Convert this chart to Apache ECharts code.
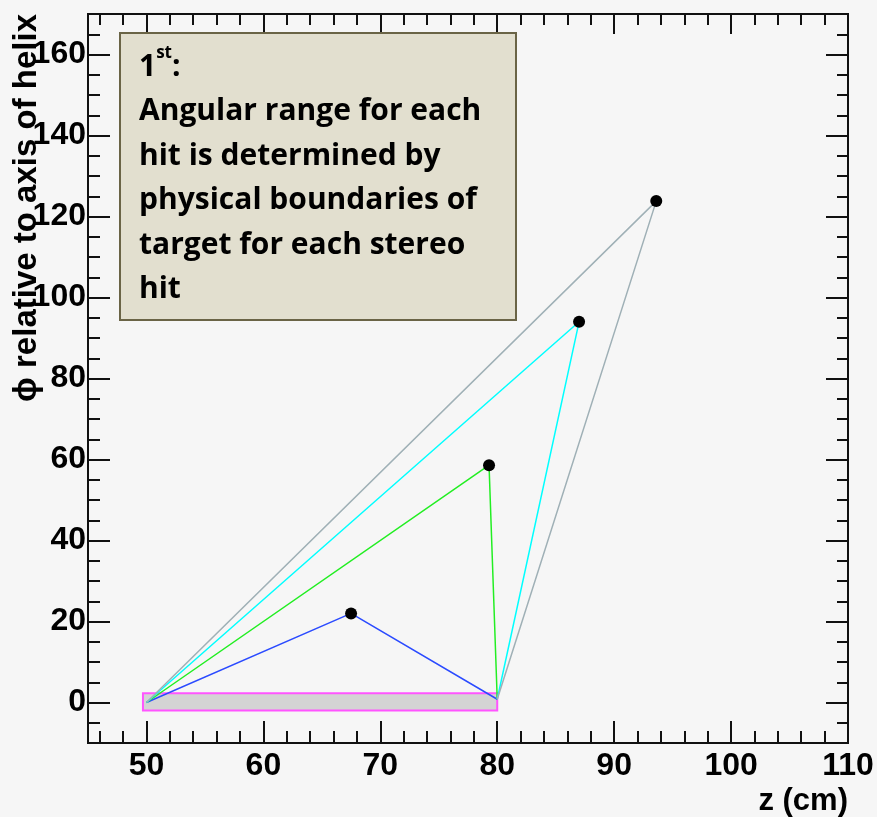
<!DOCTYPE html>
<html>
<head>
<meta charset="utf-8">
<script src="https://cdn.jsdelivr.net/npm/echarts@6/dist/echarts.min.js"></script>
<style>
  html, body { margin: 0; padding: 0; background: #f6f6f6; }
  #chart { width: 877px; height: 817px; }
</style>
</head>
<body>
<div id="chart"></div>
<script>
// ---- data ----
const hitZ = [67.5, 79.3, 87.0, 93.6];
const hitPhi = [22.0, 58.6, 94.0, 123.8];
const hitColors = ['#2b4bff', '#22ee22', '#00ffff', '#9fb0b6'];
const lineStart = [50, 0];
const lineEnd = [80, 0.8];
const targetZ = [49.7, 80];
const targetPhi = [-2, 2.3];

const majorX = [50, 60, 70, 80, 90, 100, 110];
const minorX = [46, 48, 52, 54, 56, 58, 62, 64, 66, 68, 72, 74, 76, 78, 82, 84, 86, 88, 92, 94, 96, 98, 102, 104, 106, 108];
const majorY = [0, 20, 40, 60, 80, 100, 120, 140, 160];
const minorY = [-5, 5, 10, 15, 25, 30, 35, 45, 50, 55, 65, 70, 75, 85, 90, 95, 105, 110, 115, 125, 130, 135, 145, 150, 155, 165];

const xRange = [45, 110];
const yRange = [-10, 170];

// ---- options ----
const axisColor = '#111';
const labelFont = { fontFamily: 'Liberation Sans, Arial, sans-serif', fontWeight: 'bold', fontSize: 32, color: '#000' };

function xAx(position, ticks, len, labels) {
  return {
    type: 'value', position: position, min: xRange[0], max: xRange[1],
    axisLine: { show: true, onZero: false, lineStyle: { color: axisColor, width: 2 } },
    axisTick: { show: true, inside: true, length: len, customValues: ticks, lineStyle: { color: axisColor, width: 2 } },
    axisLabel: labels ? Object.assign({ show: true, margin: 7, customValues: ticks }, labelFont) : { show: false },
    splitLine: { show: false }
  };
}
function yAx(position, ticks, len, labels) {
  return {
    type: 'value', position: position, min: yRange[0], max: yRange[1],
    axisLine: { show: true, onZero: false, lineStyle: { color: axisColor, width: 2 } },
    axisTick: { show: true, inside: true, length: len, customValues: ticks, lineStyle: { color: axisColor, width: 2 } },
    axisLabel: labels ? Object.assign({ show: true, margin: 2, padding: [8, 0, 0, 0], customValues: ticks }, labelFont) : { show: false },
    splitLine: { show: false }
  };
}

const series = [];
series.push({
  type: 'custom',
  name: 'target',
  data: [[targetZ[0], targetPhi[0], targetZ[1], targetPhi[1]]],
  renderItem: function (params, api) {
    const p1 = api.coord([api.value(0), api.value(3)]);
    const p2 = api.coord([api.value(2), api.value(1)]);
    return {
      type: 'rect',
      shape: { x: p1[0], y: p1[1], width: p2[0] - p1[0], height: p2[1] - p1[1] },
      style: { fill: '#d4d4d4', stroke: '#ff55ff', lineWidth: 2 }
    };
  },
  z: 1
});
for (let i = 0; i < hitZ.length; i++) {
  series.push({
    type: 'line',
    data: [lineStart, [hitZ[i], hitPhi[i]], lineEnd],
    symbol: 'none',
    lineStyle: { color: hitColors[i], width: 1.5 },
    z: 2
  });
}
series.push({
  type: 'scatter',
  data: hitZ.map((z, i) => [z, hitPhi[i]]),
  symbol: 'circle',
  symbolSize: 12,
  itemStyle: { color: '#000', opacity: 1 },
  z: 3
});

const option = {
  backgroundColor: '#f6f6f6',
  animation: false,
  grid: { left: 88, right: 29, top: 14, bottom: 74, containLabel: false },
  xAxis: [
    xAx('bottom', majorX, 22, true),
    xAx('bottom', minorX, 12, false),
    xAx('top', majorX, 20, false),
    xAx('top', minorX, 11, false)
  ],
  yAxis: [
    yAx('left', majorY, 22, true),
    yAx('left', minorY, 12, false),
    yAx('right', majorY, 22, false),
    yAx('right', minorY, 11, false)
  ],
  series: series,
  graphic: [
    {
      type: 'text', x: 27, y: 14, rotation: Math.PI / 2,
      style: {
        text: 'ϕ relative to axis of helix',
        fontFamily: 'Liberation Sans, Arial, sans-serif', fontWeight: 'bold', fontSize: 33,
        fill: '#000', textAlign: 'right', textVerticalAlign: 'middle'
      },
      z: 10
    },
    {
      type: 'text', x: 848, y: 801,
      style: {
        text: 'z (cm)',
        fontFamily: 'Liberation Sans, Arial, sans-serif', fontWeight: 'bold', fontSize: 31,
        fill: '#000', textAlign: 'right', textVerticalAlign: 'middle'
      },
      z: 10
    },
    {
      type: 'rect',
      shape: { x: 120, y: 33, width: 396, height: 287 },
      style: { fill: '#e2dfcf', stroke: '#6a6446', lineWidth: 2 },
      z: 20
    },
    {
      type: 'text', x: 139, y: 45,
      style: {
        text: '{a|1}{s|st}{a|:}\nAngular range for each\nhit is determined by\nphysical boundaries of\ntarget for each stereo\nhit',
        fontFamily: 'Open Sans, sans-serif', fontWeight: 'bold', fontSize: 30, lineHeight: 44.5,
        fill: '#000', textAlign: 'left', textVerticalAlign: 'top',
        rich: {
          a: { fontFamily: 'Open Sans, sans-serif', fontWeight: 'bold', fontSize: 30, lineHeight: 44.5, fill: '#000' },
          s: { fontFamily: 'Open Sans, sans-serif', fontWeight: 'bold', fontSize: 17, lineHeight: 24, verticalAlign: 'top', fill: '#000' }
        }
      },
      z: 21
    }
  ]
};

const chart = echarts.init(document.getElementById('chart'));
chart.setOption(option);
</script>
</body>
</html>
